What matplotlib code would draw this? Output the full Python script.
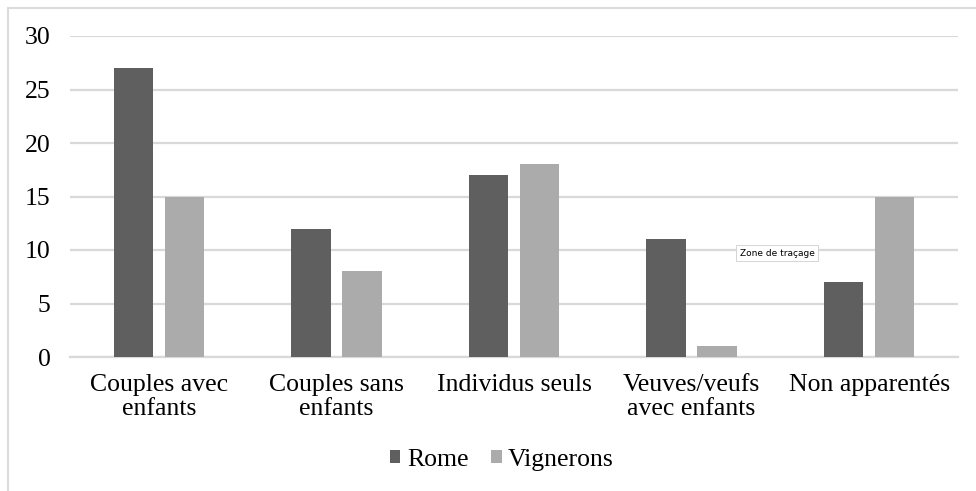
import matplotlib
matplotlib.use("Agg")
import matplotlib.pyplot as plt
import numpy as np
from matplotlib.patches import Rectangle

categories = ["Couples avec\nenfants", "Couples sans\nenfants", "Individus seuls",
              "Veuves/veufs\navec enfants", "Non apparentés"]
rome = [27, 12, 17, 11, 7]
vignerons = [15, 8, 18, 1, 15]
yticks = [0, 5, 10, 15, 20, 25, 30]

plt.rcParams['font.family'] = ['Liberation Serif', 'DejaVu Serif']

W, H = 976, 491
FS = 18.5
fig = plt.figure(figsize=(W / 100, H / 100), dpi=100)
ax = fig.add_axes([70 / W, 1 - 357 / H, 888 / W, 321 / H])

x = np.arange(len(categories))
bw = 0.222
off = 0.144
ax.bar(x - off, rome, bw, color="#5f5f5f", label="Rome", zorder=3)
ax.bar(x + off, vignerons, bw, color="#ababab", label="Vignerons", zorder=3)

ax.set_xlim(-0.5, len(categories) - 0.5)
ax.set_ylim(0, 30)
ax.set_yticks(yticks)
ax.set_yticklabels([str(v) for v in yticks], fontsize=FS)
ax.set_xticks(x)
ax.set_xticklabels(categories, fontsize=FS, linespacing=1.1)
ax.tick_params(axis='both', length=0)
ax.tick_params(axis='y', pad=14)
ax.tick_params(axis='x', pad=12.5)
ax.grid(axis='y', color="#d9d9d9", linewidth=1.6, zorder=0)
for s in ["top", "right", "left"]:
    ax.spines[s].set_visible(False)
ax.spines["bottom"].set_color("#d9d9d9")
ax.spines["bottom"].set_linewidth(1.6)

leg = fig.legend(loc="center", bbox_to_anchor=(502 / W, 1 - 460 / H), ncol=2,
                 frameon=False, fontsize=FS, handlelength=0.4, handleheight=0.4,
                 handletextpad=0.25, columnspacing=0.9)

# chart area border (partially visible)
fig.patches.append(Rectangle((8 / W, -0.1), 1.2, (1 - 8 / H) + 0.1,
                             transform=fig.transFigure, fill=False,
                             edgecolor="#dcdcdc", linewidth=1.5))

# tooltip
fig.text(777 / W, 1 - 253 / H, "Zone de traçage", fontsize=6.5,
         family=['DejaVu Sans'], ha='center', va='center',
         bbox=dict(boxstyle="square,pad=0.35", facecolor="white",
                   edgecolor="#cfcfcf", linewidth=0.6))

fig.savefig("out.png", dpi=100)
